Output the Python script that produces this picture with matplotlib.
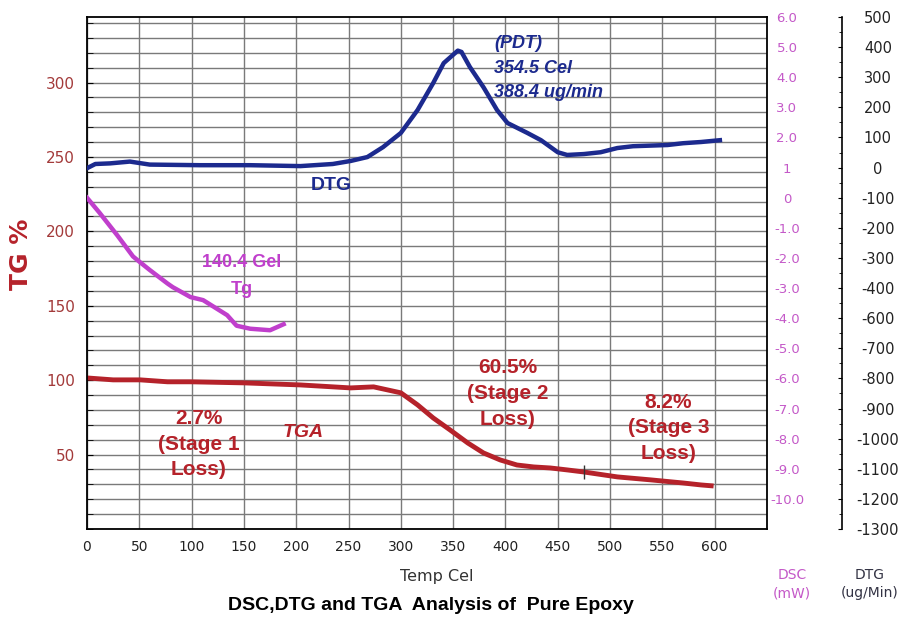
import numpy as np
import matplotlib.pyplot as plt
from matplotlib.ticker import MultipleLocator

# TGA curve (TG %)
tga_temp = [0, 25, 51, 77, 99, 149, 204, 252, 274, 300, 316, 331, 347, 364, 379,
            395, 411, 427, 443, 459, 475, 507, 539, 570, 587, 599]
tga_val = [101.5, 100.2, 100.2, 98.9, 98.9, 98.2, 96.8, 94.8, 95.5, 91.5, 83.4, 74.6,
           66.6, 57.8, 51.1, 46.4, 43.0, 41.7, 41.0, 39.7, 38.3, 35.0, 33.0, 30.9, 29.6, 28.9]

# DSC curve (mW)
dsc_temp = [0, 12, 29, 44, 51, 60, 77, 82, 99, 111, 134, 143, 156, 175, 188]
dsc_val = [0.0, -0.5, -1.25, -1.95, -2.15, -2.4, -2.85, -2.97, -3.3, -3.4, -3.9,
           -4.25, -4.35, -4.4, -4.2]

# DTG curve (ug/min)
dtg_temp = [0, 8, 22, 41, 60, 108, 156, 204, 235, 252, 268, 283, 300, 316, 331, 341,
            354.5, 358, 366, 379, 392, 402, 421, 434, 450, 459, 475, 491, 507, 522,
            555, 570, 587, 605]
dtg_val = [-2, 12, 14, 20, 10, 8, 8, 5, 12, 22, 35, 68, 115, 191, 281, 347,
           388.4, 384, 334, 267, 191, 148, 115, 91, 51, 42, 45, 51, 65, 71,
           75, 81, 85, 91]

# axis labels
x_ticks = list(range(0, 601, 50))
tg_ticks = [50, 100, 150, 200, 250, 300]
dsc_ticks = [6, 5, 4, 3, 2, 1, 0, -1, -2, -3, -4, -5, -6, -7, -8, -9, -10]
dsc_labels = ["6.0", "5.0", "4.0", "3.0", "2.0", "1", "0", "-1.0", "-2.0", "-3.0",
              "-4.0", "-5.0", "-6.0", "-7.0", "-8.0", "-9.0", "-10.0"]
# the original DTG scale skips -500
dtg_labels = ["500", "400", "300", "200", "100", "0", "-100", "-200", "-300", "-400",
              "-600", "-700", "-800", "-900", "-1000", "-1100", "-1200", "-1300"]

red = "#b5222a"
navy = "#1c2a8e"
magenta = "#c03fcc"
txtfont = "Liberation Sans"

fig = plt.figure(figsize=(9.07, 6.19), dpi=100)
ax = fig.add_axes([0.0959, 0.1454, 0.7497, 0.8271])

ax.set_xlim(0, 650)
ax.set_ylim(0, 344)
ax.set_xticks(x_ticks)
ax.set_yticks(tg_ticks)
ax.yaxis.set_minor_locator(MultipleLocator(10))
ax.grid(which="major", axis="x", color="#7a7a7a", lw=1)
ax.grid(which="both", axis="y", color="#7a7a7a", lw=1)
ax.set_axisbelow(True)
ax.tick_params(axis="x", length=0, pad=8, labelsize=10, labelcolor="#222222")
ax.tick_params(axis="y", which="both", direction="in", length=4, color="black",
               pad=8.5, labelsize=11, labelcolor="#a33a3a")
for s in ax.spines.values():
    s.set_linewidth(1.3)

ax.plot(tga_temp, tga_val, color=red, lw=3.5, solid_capstyle="butt")
ax.plot([475], [38.3], marker="|", ms=10, mew=1, color="#333333")

# DSC axis (labels only)
ax2 = ax.twinx()
ax2.set_ylim(-11, 6)
ax2.set_yticks(dsc_ticks)
ax2.set_yticklabels(dsc_labels)
for s in ax2.spines.values():
    s.set_visible(False)
ax2.tick_params(axis="y", length=0, pad=14.4, labelsize=9.5, labelcolor="#c459c8")
for lab in ax2.get_yticklabels():
    lab.set_horizontalalignment("center")
ax2.plot(dsc_temp, dsc_val, color=magenta, lw=3.2)

# DTG axis
ax3 = ax.twinx()
ax3.set_ylim(-1200, 500)
ax3.set_yticks(np.arange(500, -1201, -100))
ax3.set_yticklabels(dtg_labels)
ax3.yaxis.set_minor_locator(MultipleLocator(50))
for name, s in ax3.spines.items():
    s.set_visible(name == "right")
ax3.spines["right"].set_position(("axes", 1.110))
ax3.spines["right"].set_linewidth(1.2)
ax3.tick_params(axis="y", which="major", direction="in", length=3, pad=26,
                labelsize=10.5, labelcolor="#222222")
ax3.tick_params(axis="y", which="minor", direction="in", length=2)
for lab in ax3.get_yticklabels():
    lab.set_horizontalalignment("center")
ax3.plot(dtg_temp, dtg_val, color=navy, lw=3.2)

# annotations
ax.text(389.5, 309.7, "(PDT)\n354.5 Cel\n388.4 ug/min", color=navy, fontsize=13,
        fontweight="bold", fontstyle="italic", family=txtfont, ha="left", va="center",
        linespacing=1.6)
ax.text(234, 231, "DTG", color=navy, fontsize=14, fontweight="bold", family=txtfont,
        ha="center", va="center")
ax.text(148, 170, "140.4 Gel\nTg", color=magenta, fontsize=13, fontweight="bold",
        family=txtfont, ha="center", va="center", linespacing=1.7)
ax.text(107, 57, "2.7%\n(Stage 1\nLoss)", color=red, fontsize=15, fontweight="bold",
        family=txtfont, ha="center", va="center", linespacing=1.45)
ax.text(207, 65, "TGA", color=red, fontsize=14, fontweight="bold", fontstyle="italic",
        family=txtfont, ha="center", va="center")
ax.text(402, 91, "60.5%\n(Stage 2\nLoss)", color=red, fontsize=15, fontweight="bold",
        family=txtfont, ha="center", va="center", linespacing=1.45)
ax.text(556, 68, "8.2%\n(Stage 3\nLoss)", color=red, fontsize=15, fontweight="bold",
        family=txtfont, ha="center", va="center", linespacing=1.45)

fig.text(21 / 907, 1 - 254 / 619, "TG %", rotation=90, color=red, fontsize=18,
         fontweight="bold", ha="center", va="center")
fig.text(437 / 907, 1 - 577 / 619, "Temp Cel", color="#333333", fontsize=11.5,
         ha="center", va="center")
fig.text(431 / 907, 1 - 606 / 619, "DSC,DTG and TGA  Analysis of  Pure Epoxy",
         color="black", fontsize=14, fontweight="bold", family=txtfont,
         ha="center", va="center")
fig.text(792 / 907, 1 - 584 / 619, "DSC\n(mW)", color="#c459c8", fontsize=10,
         ha="center", va="center", linespacing=1.4)
fig.text(870 / 907, 1 - 584 / 619, "DTG\n(ug/Min)", color="#333344", fontsize=10,
         ha="center", va="center", linespacing=1.4)

fig.savefig("out.png", dpi=100)
